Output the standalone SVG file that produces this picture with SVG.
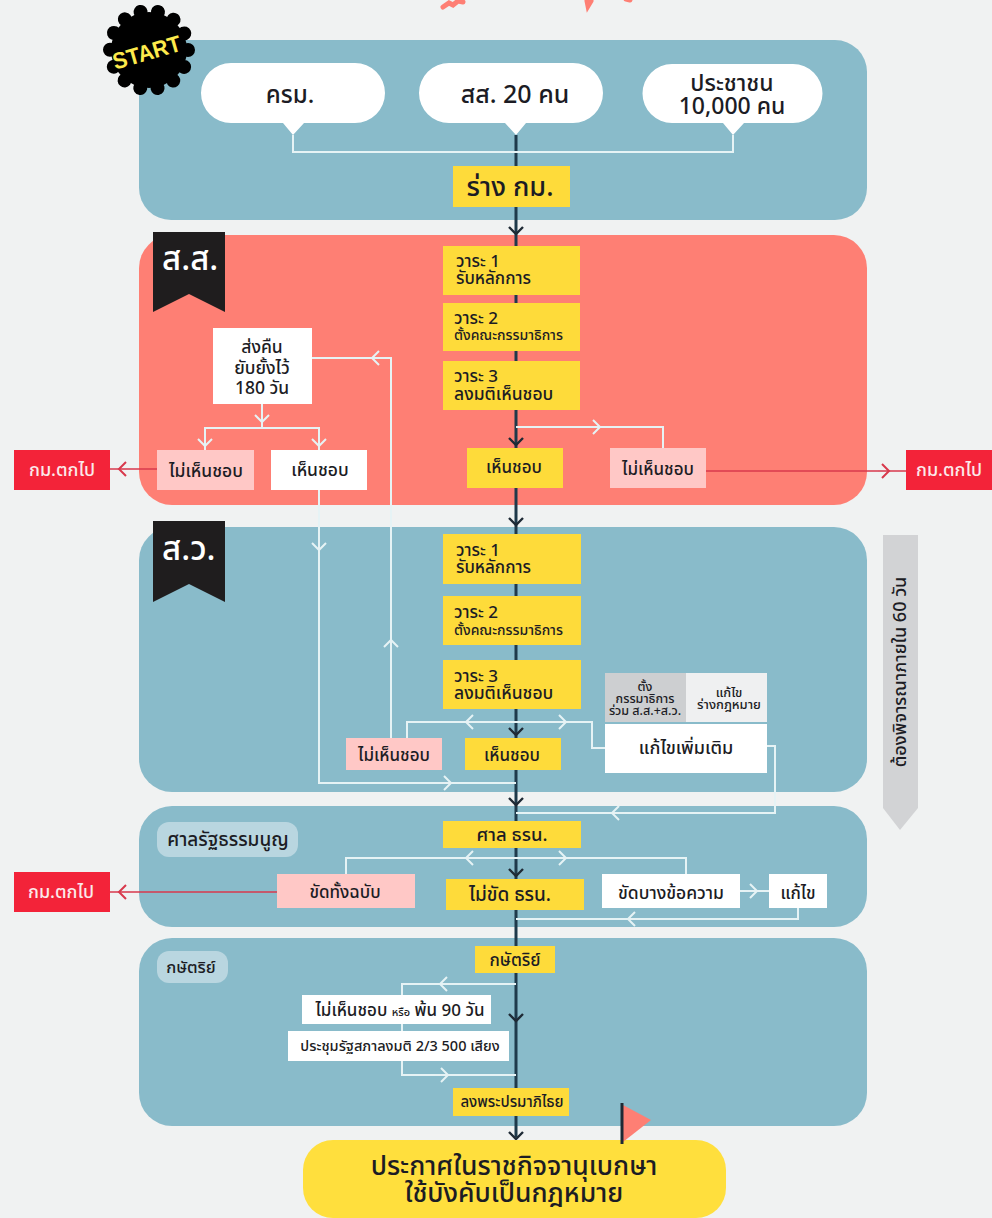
<svg xmlns="http://www.w3.org/2000/svg" width="992" height="1218" viewBox="0 0 992 1218">
<style>
text{font-family:"Noto Sans","Noto Sans Thai","Open Sans","Liberation Sans",sans-serif;fill:#1c1c24;font-weight:500}
.m{text-anchor:middle}
.blue{fill:#89bbca}.red{fill:#fe7f74}.y{fill:#fedb3a}.w{fill:#fff}.p{fill:#ffc8c6}.r{fill:#f32339}.pill{fill:#b9d6e0}.rib{fill:#1f1d1e}
.rt{fill:#fbe9ea;font-size:18px}
.rb{fill:#fff;font-size:33px}
.ld{fill:none;stroke:#1f3a4b;stroke-width:3}
.lw{fill:none;stroke:#e6f3f5;stroke-width:2}
.lr{fill:none;stroke:#d8394c;stroke-width:1.5}
</style>
<defs>
<marker id="ad" markerUnits="userSpaceOnUse" markerWidth="18" markerHeight="18" refX="10" refY="9" orient="auto"><path d="M3,2 L10,9 L3,16" fill="none" stroke="#1f2a35" stroke-width="2.4"/></marker>
<marker id="aw" markerUnits="userSpaceOnUse" markerWidth="18" markerHeight="18" refX="10" refY="9" orient="auto"><path d="M3,2 L10,9 L3,16" fill="none" stroke="#e6f3f5" stroke-width="2"/></marker>
<marker id="ar" markerUnits="userSpaceOnUse" markerWidth="18" markerHeight="18" refX="10" refY="9" orient="auto"><path d="M3,2 L10,9 L3,16" fill="none" stroke="#d8394c" stroke-width="2"/></marker>
</defs>
<rect width="992" height="1218" fill="#f0f2f2"/>
<g id="title-fragments" fill="none" stroke="#fe7f74" stroke-width="5" stroke-linecap="round">
<path d="M443,7 L449,3 L453,5 L458,1 L463,2"/><path d="M587,1 L588,6 L591,1"/><path d="M626,-1 L630,0"/>
</g>
<g id="panels">
<rect class="blue" x="139" y="40" width="728" height="180" rx="32"/>
<rect class="red" x="139" y="235" width="728" height="270" rx="33"/>
<rect class="blue" x="139" y="527" width="728" height="265" rx="33"/>
<rect class="blue" x="139" y="806" width="728" height="121" rx="33"/>
<rect class="blue" x="139" y="938" width="728" height="188" rx="33"/>
</g>
<g id="connectors">
<path class="ld" d="M516,135 V1137"/>
<path class="lw" d="M293,135 V152 H733 V135"/>
<path class="lw" d="M516,427 H663 V448"/>
<path class="lw" d="M262,404 V428 M205,450 V428 H319 V450"/>
<path class="lw" d="M319,490 V783 H516"/>
<path class="lw" d="M391,738 V358 H312"/>
<path class="lw" d="M407,738 V722 H592 V748 H605"/>
<path class="lw" d="M767,746 H775 V813 H516"/>
<path class="lw" d="M346,874 V858 H686 V874"/>
<path class="lw" d="M740,891 H769"/>
<path class="lw" d="M798,908 V919 H516"/>
<path class="lw" d="M516,984 H402 V1075 H516"/>
<path class="lr" d="M706,471 H906"/>
<path class="lr" d="M157,469 H110"/>
<path class="lr" d="M277,892 H110"/>
<g class="ld" style="stroke-width:0.1">
<path marker-end="url(#ad)" d="M516,225 V234"/><path marker-end="url(#ad)" d="M516,436 V445"/><path marker-end="url(#ad)" d="M516,515 V525"/><path marker-end="url(#ad)" d="M516,726 V735"/><path marker-end="url(#ad)" d="M516,795 V805"/><path marker-end="url(#ad)" d="M516,866 V876"/><path marker-end="url(#ad)" d="M516,1012 V1021"/><path marker-end="url(#ad)" d="M516,1128 V1139"/>
</g>
<g class="lw" style="stroke-width:0.1">
<path marker-end="url(#aw)" d="M590,427 H600"/><path marker-end="url(#aw)" d="M262,410 V422"/><path marker-end="url(#aw)" d="M205,435 V446"/><path marker-end="url(#aw)" d="M319,435 V446"/>
<path marker-end="url(#aw)" d="M319,540 V550"/><path marker-end="url(#aw)" d="M385,358 H372"/><path marker-end="url(#aw)" d="M391,650 V640"/><path marker-end="url(#aw)" d="M440,783 H451"/>
<path marker-end="url(#aw)" d="M480,722 H466"/><path marker-end="url(#aw)" d="M555,722 H566"/><path marker-end="url(#aw)" d="M625,813 H612"/>
<path marker-end="url(#aw)" d="M478,858 H466"/><path marker-end="url(#aw)" d="M555,858 H566"/><path marker-end="url(#aw)" d="M745,891 H757"/><path marker-end="url(#aw)" d="M640,919 H628"/>
<path marker-end="url(#aw)" d="M452,984 H440"/><path marker-end="url(#aw)" d="M435,1075 H448"/>
</g>
<g class="lr" style="stroke-width:0.1">
<path marker-end="url(#ar)" d="M878,471 H889"/><path marker-end="url(#ar)" d="M130,469 H119"/><path marker-end="url(#ar)" d="M130,892 H119"/>
</g>
</g>
<g id="start">
<circle cx="149" cy="50" r="38" fill="#000"/>
<circle cx="149" cy="50" r="39" fill="none" stroke="#000" stroke-width="14" stroke-linecap="round" stroke-dasharray="0.01 17.49"/>
<text class="m" transform="translate(149,60) rotate(-16)" style="fill:#fdea4c;font-size:23px;font-weight:700;font-family:'Liberation Sans',sans-serif" textLength="70" lengthAdjust="spacingAndGlyphs">START</text>
</g>
<g id="n-cabinet"><path class="w" d="M231,63 H355 A30,30 0 0 1 355,123 H304 L293,135 L283,123 H231 A30,30 0 0 1 231,63Z"/><text class="m" x="290" y="103" font-size="24">ครม.</text></g>
<g id="n-mp20"><path class="w" d="M449,63 H573 A30,30 0 0 1 573,123 H526 L516,135 L505,123 H449 A30,30 0 0 1 449,63Z"/><text class="m" x="515" y="103" font-size="25">สส. 20 คน</text></g>
<g id="n-people"><path class="w" d="M672,64 H793 A29.5,29.5 0 0 1 793,123 H744 L733,135 L723,123 H672 A29.5,29.5 0 0 1 672,64Z"/><text class="m" x="732" y="91" font-size="23">ประชาชน</text><text class="m" x="732" y="114" font-size="23">10,000 คน</text></g>
<g id="n-draft"><rect class="y" x="453" y="166" width="117" height="41"/><text class="m" x="510" y="196" font-size="27">ร่าง กม.</text></g>

<g id="ribbon-mp"><path class="rib" d="M153,232 H225 V312 L189,294 L153,312Z"/><text class="rb" x="162" y="270">ส.ส.</text></g>
<g id="n-mp-r1"><rect class="y" x="443" y="246" width="137" height="49"/><text x="456" y="267" font-size="17">วาระ 1</text><text x="456" y="284" font-size="17">รับหลักการ</text></g>
<g id="n-mp-r2"><rect class="y" x="443" y="303" width="137" height="48"/><text x="454" y="324" font-size="17">วาระ 2</text><text x="454" y="340" font-size="14">ตั้งคณะกรรมาธิการ</text></g>
<g id="n-mp-r3"><rect class="y" x="443" y="361" width="137" height="49"/><text x="454" y="382" font-size="17">วาระ 3</text><text x="454" y="400" font-size="17.5">ลงมติเห็นชอบ</text></g>
<g id="n-mp-yes"><rect class="y" x="467" y="448" width="96" height="40"/><text class="m" x="514" y="473" font-size="17">เห็นชอบ</text></g>
<g id="n-mp-no"><rect class="p" x="610" y="448" width="96" height="40"/><text class="m" x="658" y="475" font-size="17">ไม่เห็นชอบ</text></g>
<g id="n-drop1"><rect class="r" x="906" y="450" width="86" height="40"/><text class="rt m" x="949" y="476">กม.ตกไป</text></g>
<g id="n-return"><rect class="w" x="213" y="328" width="99" height="76"/><text class="m" x="262" y="353" font-size="17.5">ส่งคืน</text><text class="m" x="262" y="374" font-size="17.5">ยับยั้งไว้</text><text class="m" x="262" y="394" font-size="17.5">180 วัน</text></g>
<g id="n-ret-no"><rect class="p" x="157" y="450" width="97" height="40"/><text class="m" x="206" y="477" font-size="17.5">ไม่เห็นชอบ</text></g>
<g id="n-ret-yes"><rect class="w" x="271" y="450" width="96" height="40"/><text class="m" x="320" y="476" font-size="17.5">เห็นชอบ</text></g>
<g id="n-drop2"><rect class="r" x="14" y="450" width="96" height="40"/><text class="rt m" x="62" y="476">กม.ตกไป</text></g>

<g id="ribbon-sen"><path class="rib" d="M153,521 H225 V602 L189,584 L153,602Z"/><text class="rb" x="162" y="560">ส.ว.</text></g>
<g id="n-sen-r1"><rect class="y" x="443" y="534" width="138" height="50"/><text x="456" y="556" font-size="17">วาระ 1</text><text x="456" y="573" font-size="17">รับหลักการ</text></g>
<g id="n-sen-r2"><rect class="y" x="443" y="596" width="138" height="49"/><text x="454" y="618" font-size="17">วาระ 2</text><text x="454" y="635" font-size="14">ตั้งคณะกรรมาธิการ</text></g>
<g id="n-sen-r3"><rect class="y" x="443" y="660" width="138" height="49"/><text x="454" y="682" font-size="17">วาระ 3</text><text x="454" y="699" font-size="17.5">ลงมติเห็นชอบ</text></g>
<g id="n-sen-yes"><rect class="y" x="465" y="738" width="96" height="32"/><text class="m" x="512" y="761" font-size="17">เห็นชอบ</text></g>
<g id="n-sen-no"><rect class="p" x="346" y="738" width="96" height="32"/><text class="m" x="394" y="761" font-size="17">ไม่เห็นชอบ</text></g>
<g id="n-amend">
<rect x="605" y="673" width="81" height="49" fill="#cdcfd1"/><rect x="686" y="673" width="81" height="49" fill="#eff0f1"/><rect class="w" x="605" y="724" width="162" height="49"/>
<text class="m" x="645" y="691" font-size="12.5">ตั้ง</text><text class="m" x="645" y="703" font-size="12.5">กรรมาธิการ</text><text class="m" x="645" y="715" font-size="12.5">ร่วม ส.ส.+ส.ว.</text>
<text class="m" x="729" y="697" font-size="13">แก้ไข</text><text class="m" x="729" y="709" font-size="13">ร่างกฎหมาย</text>
<text class="m" x="686" y="754" font-size="18">แก้ไขเพิ่มเติม</text></g>

<g id="n-court-label"><rect class="pill" x="157" y="822" width="141" height="35" rx="12"/><text class="m" x="228" y="846" font-size="19">ศาลรัฐธรรมนูญ</text></g>
<g id="n-court"><rect class="y" x="443" y="821" width="138" height="27"/><text class="m" x="512" y="841" font-size="18.5">ศาล ธรน.</text></g>
<g id="n-court-all"><rect class="p" x="277" y="874" width="138" height="34"/><text class="m" x="345" y="898" font-size="17">ขัดทั้งฉบับ</text></g>
<g id="n-court-ok"><rect class="y" x="446" y="879" width="138" height="31"/><text class="m" x="510" y="901" font-size="19">ไม่ขัด ธรน.</text></g>
<g id="n-court-part"><rect class="w" x="602" y="874" width="138" height="34"/><text class="m" x="671" y="899" font-size="17.5">ขัดบางข้อความ</text></g>
<g id="n-court-fix"><rect class="w" x="769" y="874" width="58" height="34"/><text class="m" x="798" y="899" font-size="17">แก้ไข</text></g>
<g id="n-drop3"><rect class="r" x="14" y="872" width="96" height="40"/><text class="rt m" x="61" y="898">กม.ตกไป</text></g>

<g id="n-king-label"><rect class="pill" x="157" y="951" width="71" height="32" rx="12"/><text class="m" x="191" y="973" font-size="16.5">กษัตริย์</text></g>
<g id="n-king"><rect class="y" x="475" y="946" width="80" height="27"/><text class="m" x="515" y="966" font-size="17">กษัตริย์</text></g>
<g id="n-king-no"><rect class="w" x="302" y="995" width="189" height="29"/><text class="m" x="400" y="1016" font-size="17">ไม่เห็นชอบ <tspan font-size="11">หรือ</tspan> พ้น 90 วัน</text></g>
<g id="n-king-vote"><rect class="w" x="288" y="1031" width="221" height="30"/><text class="m" x="400" y="1051" font-size="14.5">ประชุมรัฐสภาลงมติ 2/3 500 เสียง</text></g>
<g id="n-sign"><rect class="y" x="453" y="1088" width="116" height="28"/><text class="m" x="512" y="1107" font-size="15">ลงพระปรมาภิไธย</text></g>
<g id="n-publish"><rect x="303" y="1140" width="423" height="78" rx="30" fill="#ffdf3d"/><text class="m" x="514" y="1175" font-size="26.5">ประกาศในราชกิจจานุเบกษา</text><text class="m" x="514" y="1202" font-size="26.5">ใช้บังคับเป็นกฎหมาย</text></g>
<g id="flag"><path class="red" d="M623,1105 L651,1120 L623,1142Z"/><path d="M622,1103 V1144" stroke="#1f2a35" stroke-width="3"/></g>
<g id="n-deadline"><path fill="#d2d3d5" d="M883,535 H918 V808 L900,830 L883,808Z"/><text class="m" transform="translate(906,672) rotate(-90)" font-size="18">ต้องพิจารณาภายใน 60 วัน</text></g>
</svg>
